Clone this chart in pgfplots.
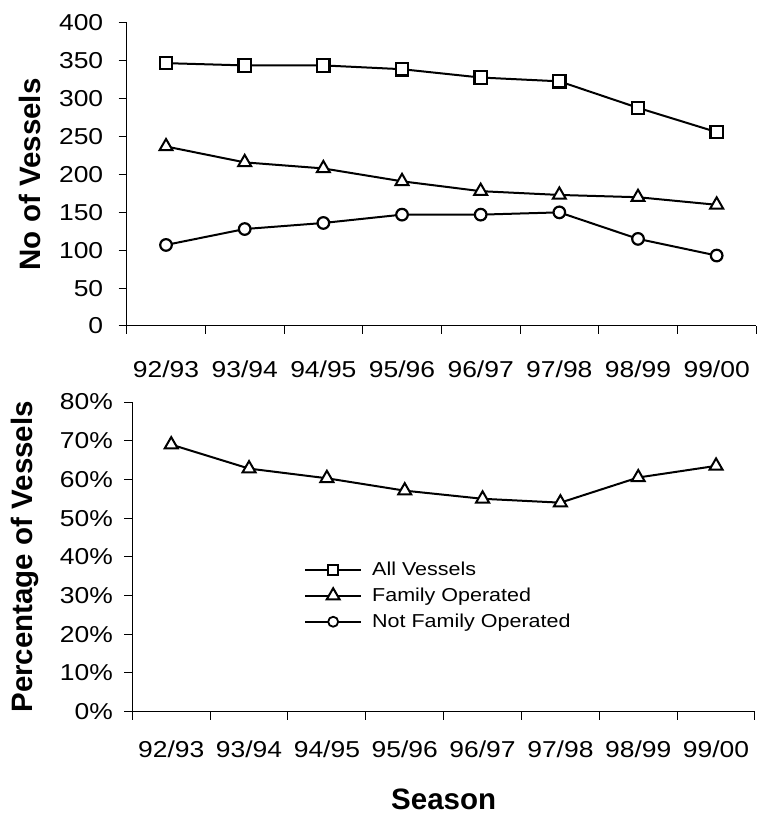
\documentclass[border=0pt]{standalone}
\usepackage{fontspec}
\setmainfont{Liberation Sans}[FakeStretch=1.15]
\newfontfamily\labelfont{Liberation Sans}
\usepackage{pgfplots}
\pgfplotsset{compat=1.18}
\newcommand{\tl}[1]{\textnormal{#1}}
\begin{document}
\begin{tikzpicture}
\path[use as bounding box] (0,0) rectangle (758bp,816bp);
\pgfplotsset{
  myaxis/.style={
    scale only axis,
    axis x line*=bottom, axis y line*=left,
    axis line style={-, line width=1bp},
    xmin=0, xmax=8,
    xtick={0,...,8},
    x tick label as interval,
    xticklabels={\tl{92/93},\tl{93/94},\tl{94/95},\tl{95/96},\tl{96/97},\tl{97/98},\tl{98/99},\tl{99/00}},
    tick align=outside,
    major tick length=8bp,
    tick style={line width=1bp, black},
    ticklabel style={font=\fontsize{23bp}{26bp}\selectfont},
    /pgf/number format/assume math mode=true,
    every axis plot/.append style={line width=2bp, black},
  },
  sq/.style={mark=square*, mark size=6.2bp, mark options={fill=white, solid, line width=2.2bp}},
  tri/.style={mark=triangle*, mark size=7.5bp, mark options={fill=white, solid, line width=2bp}},
  circ/.style={mark=*, mark size=5.8bp, mark options={fill=white, solid, line width=2.2bp}},
}
\begin{axis}[myaxis,
  at={(126.7bp,490bp)}, anchor=south west,
  width=629.3bp, height=303bp,
  xticklabel shift=23bp,
  yticklabel shift=12bp,
  ymin=0, ymax=400,
  ytick={0,50,...,400},
  yticklabels={\tl{0},\tl{50},\tl{100},\tl{150},\tl{200},\tl{250},\tl{300},\tl{350},\tl{400}},
  ylabel={No of Vessels},
  every axis y label/.style={at={(axis description cs:-0.1537,0.5)}, rotate=90, anchor=center,
    font=\labelfont\bfseries\fontsize{29.5bp}{34bp}\selectfont},
]
\addplot[sq] coordinates {(0.5,347) (1.5,344) (2.5,344) (3.5,339) (4.5,328) (5.5,323) (6.5,288) (7.5,256)};
\addplot[tri] coordinates {(0.5,237) (1.5,216) (2.5,208) (3.5,191) (4.5,178) (5.5,173) (6.5,170) (7.5,160)};
\addplot[circ] coordinates {(0.5,107) (1.5,128) (2.5,136) (3.5,147) (4.5,147) (5.5,150) (6.5,115) (7.5,93)};
\end{axis}
\begin{axis}[myaxis,
  at={(132.3bp,104.3bp)}, anchor=south west,
  width=622.7bp, height=309.7bp,
  xticklabel shift=18bp,
  yticklabel shift=8bp,
  ymin=0, ymax=80,
  ytick={0,10,...,80},
  yticklabels={\tl{0\%},\tl{10\%},\tl{20\%},\tl{30\%},\tl{40\%},\tl{50\%},\tl{60\%},\tl{70\%},\tl{80\%}},
  ylabel={Percentage of Vessels},
  every axis y label/.style={at={(axis description cs:-0.172,0.5)}, rotate=90, anchor=center,
    font=\labelfont\bfseries\fontsize{29.5bp}{34bp}\selectfont},
  xlabel={Season},
  every axis x label/.style={at={(axis description cs:0.5,-0.284)}, anchor=center, inner sep=0pt,
    font=\labelfont\bfseries\fontsize{29.5bp}{34bp}\selectfont},
  legend style={draw=none, fill=none, at={(axis description cs:0.2757,0.49)}, anchor=north west,
    font=\fontsize{18.7bp}{22bp}\selectfont, inner sep=0pt, row sep=7bp,
    nodes={inner sep=2bp}},
  legend cell align=left,
  legend image code/.code={\draw[mark repeat=2, mark phase=2, #1] plot coordinates {(0bp,0bp) (28bp,0bp) (56bp,0bp)};\path (64bp,0bp);},
]
\addlegendimage{black, line width=2bp, mark=square*, mark size=5bp, mark options={fill=white, solid, line width=1.8bp}}
\addlegendentry{All Vessels}
\addplot[tri] coordinates {(0.5,69) (1.5,62.8) (2.5,60.3) (3.5,57.1) (4.5,55.0) (5.5,54.0) (6.5,60.5) (7.5,63.5)};
\addlegendentry{Family Operated}
\addlegendimage{black, line width=2bp, mark=*, mark size=5bp, mark options={fill=white, solid, line width=1.8bp}}
\addlegendentry{Not Family Operated}
\end{axis}
\end{tikzpicture}
\end{document}
